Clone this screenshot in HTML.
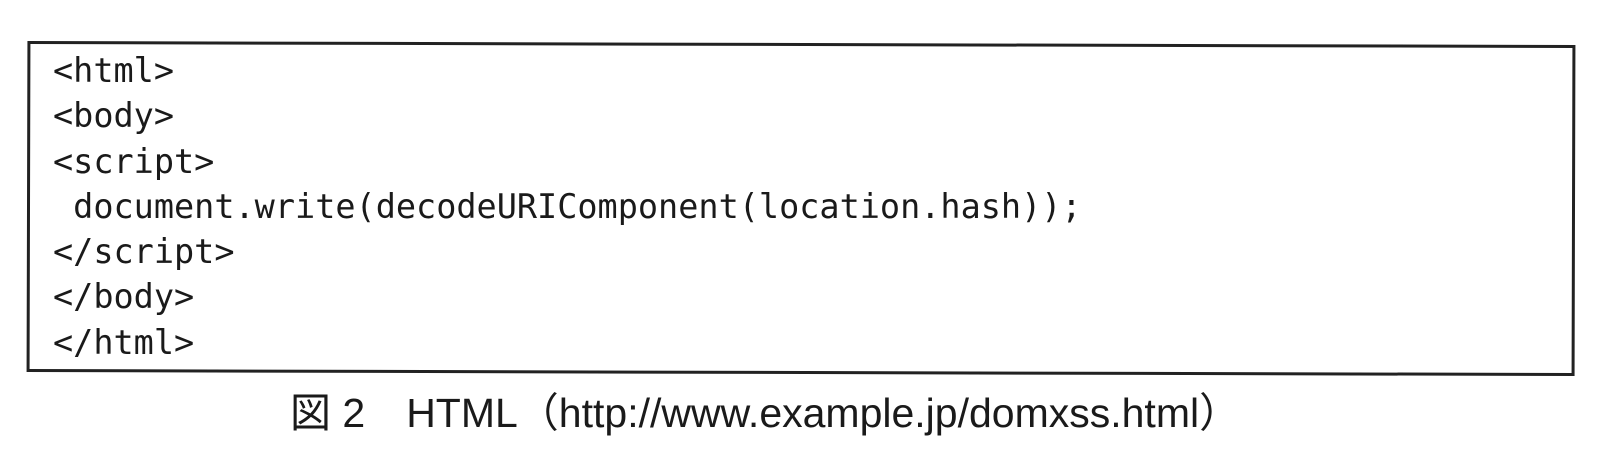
<!DOCTYPE html>
<html><head><meta charset="utf-8"><style>
html,body{margin:0;padding:0;background:#fff;}
body{width:1610px;height:474px;position:relative;overflow:hidden;}
.box{position:absolute;left:27px;top:43px;width:1542px;height:325px;border:3px solid #222;transform:rotate(0.15deg);}
.code{position:absolute;left:53px;top:48px;font-family:"DejaVu Sans Mono","Liberation Mono",monospace;font-size:33.5px;line-height:45.3px;color:#1a1a1a;white-space:pre;margin:0;}
.cap{position:absolute;left:290px;top:379px;font-family:"Liberation Sans","Noto Sans CJK JP",sans-serif;font-size:41px;color:#1a1a1a;white-space:pre;}
</style></head><body>
<div class="box"></div>
<pre class="code">&lt;html&gt;
&lt;body&gt;
&lt;script&gt;
 document.write(decodeURIComponent(location.hash));
&lt;/script&gt;
&lt;/body&gt;
&lt;/html&gt;</pre>
<div class="cap">図 2　HTML（http://www.example.jp/domxss.html）</div>
</body></html>
